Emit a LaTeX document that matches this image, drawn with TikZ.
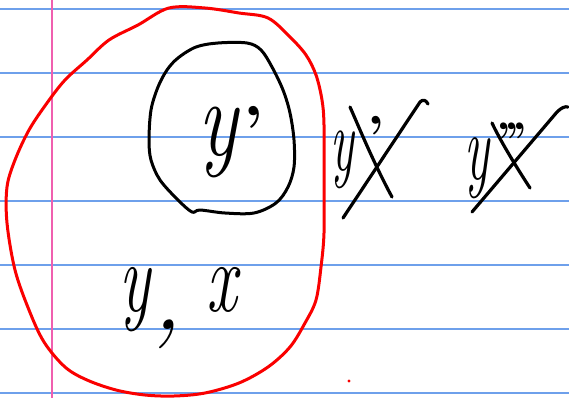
\documentclass[tikz,border=0pt]{standalone}
\usepackage{fontspec}
\definecolor{ruleblue}{RGB}{110,160,235}
\definecolor{marginpink}{RGB}{240,95,175}
\definecolor{inkred}{RGB}{250,0,0}
\tikzset{
  ruling/.style={ruleblue, line width=1.2pt},
  margin/.style={marginpink, line width=1.6pt},
  redink/.style={inkred, line width=3pt, line join=round},
  blackink/.style={black, line width=3pt, line join=round, line cap=round},
  strike/.style={black, line width=3.2pt, line cap=round, line join=round},
  hw/.style={anchor=base west, inner sep=0pt, outer sep=0pt}
}
\newcommand{\hwfont}[1]{\fontsize{#1}{#1}\selectfont}
\newcommand{\hwprime}[1]{{\upshape\bfseries\hwfont{#1}’}}
\begin{document}
\begin{tikzpicture}[x=1pt,y=-1pt]
\useasboundingbox (0,0) rectangle (569,398);
\fill[white] (0,0) rectangle (569,398);
% ruled paper
\foreach \yy in {9,73,137,201,265,329,393}
  \draw[ruling] (0,\yy) -- (569,\yy);
\draw[margin] (52,0) -- (52,398);
% red outer loop
\draw[redink] plot[smooth cycle, tension=0.55] coordinates {
 (169,8) (205,8) (239,13) (268,18) (290,37) (306,55) (316,75) (322,100) (324,125)
 (324,180) (324,233) (321,267) (316,300) (305,323) (290,347) (268,367) (239,383)
 (205,393) (174,396) (145,395) (116,390) (87,380) (65,367) (44,342) (29,310)
 (15,270) (7,223) (7,187) (15,160) (29,130) (47,103) (65,80) (87,60) (109,40)
 (138,25)};
% black inner loop
\draw[blackink] plot[smooth cycle, tension=0.55] coordinates {
 (218,43) (247,43) (261,50) (272,67) (283,90) (290,113) (294,140) (294,167)
 (288,187) (276,203) (254,213) (225,213) (200,210) (192,212) (178,200) (160,180)
 (151,160) (149,140) (151,110) (158,87) (167,70) (178,58) (196,47)};
% texts
\node[hw] (yprime) at (198,156) {\hwfont{110}\itshape\scalebox{0.75}[1]{y}\hspace{6pt}\raisebox{4pt}{\hwprime{65}}};
\node[hw] (yx) at (119,311) {\hwfont{100}\itshape\scalebox{0.65}[1]{y}\hspace{3pt}\raisebox{-18pt}{,}\hspace{24pt}\scalebox{0.68}[1]{x}};
\node[hw] (y1) at (330,170) {\hwfont{90}\itshape\scalebox{0.55}[1]{y}\hspace{14pt}\raisebox{16pt}{\hwprime{55}}};
\node[hw] (y3) at (464,179) {\hwfont{95}\itshape\scalebox{0.55}[1]{y}\hspace{8pt}\raisebox{24pt}{\hwprime{47}\hspace{-7pt}\hwprime{47}\hspace{-7pt}\hwprime{47}}};
% strike-throughs
\draw[strike] (350,107) .. controls (356,120) and (372,160) .. (392,197);
\draw[strike] (343,218) -- (420,102) .. controls (423,99) and (426,100) .. (428,104);
\draw[strike] (492,123) .. controls (500,140) and (515,165) .. (530,188);
\draw[strike] (472,212) -- (557,112) .. controls (561,108) and (565,106) .. (568,107);
% red dot
\fill[inkred] (349,381) circle (1.6pt);
\end{tikzpicture}
\end{document}
